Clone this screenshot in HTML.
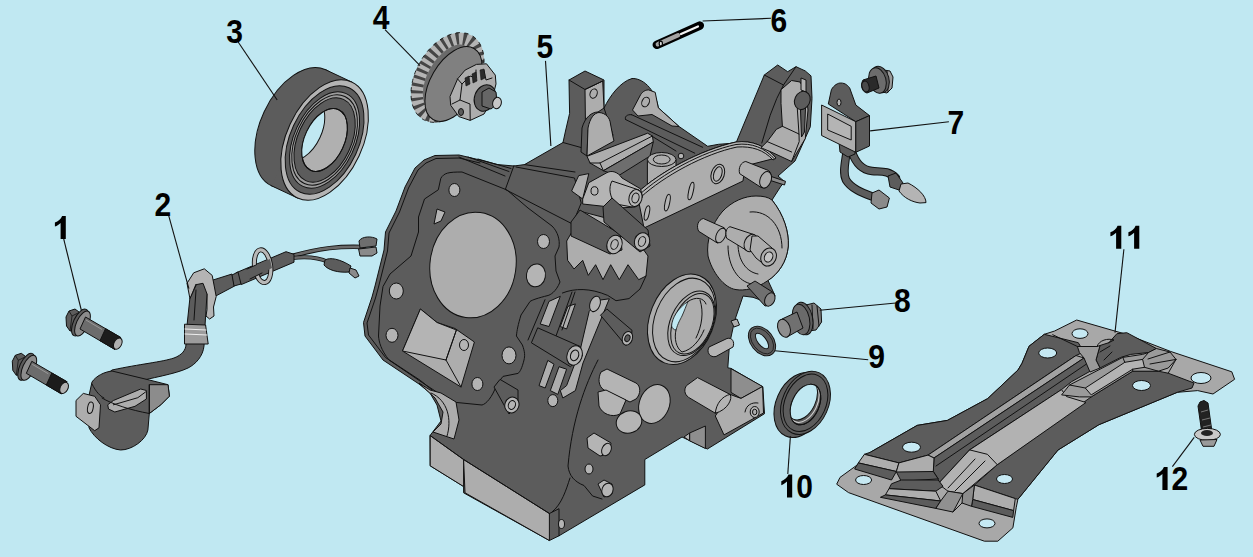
<!DOCTYPE html>
<html><head><meta charset="utf-8">
<style>
html,body{margin:0;padding:0;background:#c0e8f2;}
body{width:1253px;height:557px;overflow:hidden;}
svg{display:block;}
text{font-family:"Liberation Sans",sans-serif;font-weight:bold;font-size:33px;fill:#000;}
.d{fill:#5c5c5c;stroke:#111;stroke-width:1;stroke-linejoin:round;}
.m{fill:#adadad;stroke:#111;stroke-width:1;stroke-linejoin:round;}
.l{fill:#b4b4b4;stroke:#111;stroke-width:1;stroke-linejoin:round;}
.n{fill:none;stroke:#111;stroke-width:1;stroke-linejoin:round;stroke-linecap:round;}
.w{fill:none;stroke:#ddd;stroke-width:1;}
.ld{stroke:#111;stroke-width:1.1;fill:none;}
</style></head><body>
<svg width="1253" height="557" viewBox="0 0 1253 557">
<rect width="1253" height="557" fill="#c0e8f2"/>
<g id="block">
<!-- silhouette -->
<path class="d" d="M415 168L424 160L435 155.5L459 155L480 160L497.600 164.600L514 166L524.500 164.600L563 142.500L565.500 131L569.600 113.400L569 80L585 71L604 80L604 108C610 96 620 82 632 78.500C642 78 655 88 658.300 107.800L679 126.500L707.700 146.300L718.500 144.300L736 143L764.300 75L777.700 65L787.700 71.700L796 66.700L805.200 70.900L811 75.900L812 98.400L810.300 126.800L804.400 140.200L795 161L778 176L785 182L781 186L772 200C784 215 789 232 788.300 246C787 262 778 274 768 280.500L775 295.600L771.500 304L753 297.300L743 296L734.600 320.800L729.500 344L727.800 367.800L731 368.400L762.800 386.900L764.500 413.700L707.400 449L682 437L644.800 459.500L644.800 484.900L559 535.800L549.400 540.500L463.600 492.800L463.600 486.500L430.200 465.800L430 435.600L441 421L437 405L430 393L419 384L383 360L365 336L363.500 322.500L372 297L375 286L384 250L385.500 232L396 211L405 187Z"/>
<!-- flange gasket contour -->
<path class="n" d="M441 178C444 173 448 172 462 172L507 190L528 208L552 226C558 232 560 240 559 247L555 256L556 271L560 282C556 292 550 295 548 295.500C538 298 532 300 530 301.500L521 315C518 325 517 330 516.400 336L522.400 345C525 352 525 356 524 360C522 368 520 372 518 373.400L503 376.400L497 384C492 398 486 404 482 405L452 402L422 382.400L389 360C381 350 379 342 378.500 336L380 306L383 286.500L390 274L411 256L418.500 232L418.500 217L424.500 199L438 190Z"/>
<!-- fins and 5-block lines -->
<path class="n" d="M459 157L505 176M468 157L509 171.500M478 159L511 168.500M514 165.500L505.300 189.500L572.500 224L581.200 203L574.500 178L516 167M524.5 164.6L575 172M563 142.5L590 150"/>
<path class="n" d="M480 163L459 158L436 158.500L426 163L418 170L408.500 188L399.500 212L389 233L387.500 251L378.500 287L375.500 298L367 323L368.500 335L385.500 357.500L420.500 380.500L432 390"/>
<!-- bore -->
<ellipse class="m" cx="473" cy="265" rx="43" ry="53" transform="rotate(8 473 265)"/>
<!-- flange holes -->
<ellipse class="l" cx="454.400" cy="190" rx="5.5" ry="6.5"/>
<path class="l" d="M437 209L445 212L441 221L434 224Z"/>
<ellipse class="l" cx="543.5" cy="241.5" rx="6" ry="7"/>
<ellipse class="l" cx="536" cy="275.400" rx="9.5" ry="11.5" transform="rotate(10 536 275)"/>
<ellipse class="l" cx="396.300" cy="291" rx="7" ry="8"/>
<ellipse class="l" cx="392" cy="335.300" rx="6" ry="7"/>
<ellipse class="l" cx="509" cy="355.400" rx="7" ry="8.5"/>
<ellipse class="l" cx="477.400" cy="384" rx="5.5" ry="6.5"/>
<!-- port -->
<path class="m" d="M420.400 309L402.500 351L461 387L474.400 342L455 328.500L437 322.500Z"/>
<path class="l" d="M420.400 309L402.500 351L446 360L456.400 330L437 322.500Z"/>
<path class="n" d="M446 360L461 387M446 360L456.400 330"/>
<ellipse class="l" cx="464" cy="345" rx="4.5" ry="5.5"/>

<!-- top lugs -->
<path class="m" d="M585 89.500L602.700 81L604 108L598 112L588 120L585.500 128Z"/>
<path class="n" d="M569 80L585 89.500L602.700 81"/>
<ellipse class="m" cx="593.600" cy="93.600" rx="3.500" ry="4.800" transform="rotate(20 593.6 93.6)"/>
<path class="m" d="M632.500 110L640.600 94.700C643 91 646 89.900 648.700 89.900L655.200 92.300L658.300 107.800L679 126.500L672 126L652 114.500L638 116Z"/>
<ellipse class="m" cx="645.600" cy="102" rx="3.600" ry="5" transform="rotate(25 645.6 102)"/>
<!-- top slope + bars -->
<path class="n" d="M604 108L613 135M631.600 114.700L702.700 147.300M625.700 119.600L694.800 153.200M631.600 114.700C627 114 624 117 625.700 119.600M652.300 136.400L676 151"/>
<!-- arch -->
<path class="d" d="M581 152L582 128C585 117 592 112 598 112L598 118L588 130L587 156Z"/>
<path class="m" d="M587 156L588 128C590 118 594 113 599 112.500C606 113 610 118 610.500 124L613 137L614 141Z"/>
<!-- light bar -->
<path class="m" d="M587 156.300L647.600 133.200L652.400 136L653.300 141.900L603.400 170.700L590 163Z"/>
<path class="n" d="M652.4 136L600 163L590 163M600 163L603.4 170.7"/>
<path class="m" d="M603.400 170.700L653.300 141.900L650 156L618 176Z" style="fill:#6e6e6e"/>
<!-- boss cylinder -->
<path class="m" d="M647.400 159.500L647.400 186L676 172L676 159.500Z"/>
<ellipse class="m" cx="661.700" cy="159.500" rx="14.300" ry="7"/>
<ellipse class="m" cx="661.700" cy="159.500" rx="8.400" ry="4.500"/>
<circle class="l" cx="681" cy="156" r="2.800"/>
<!-- sector plate -->
<path class="m" d="M637 193C660 172 700 150 736 142C752 140 766 146 776 158L745 166L743 181L644 228Z"/>
<path class="l" d="M637 193C660 172 700 150 736 142C752 140 766 146 776 158L773 160C764 150 752 146 737 147C704 154 664 176 641 197Z"/>
<path class="n" d="M639 195C662 174 701 152 736 144.500C752 142.500 765 148 774.500 159"/>
<g class="l">
<ellipse cx="647" cy="213" rx="2.3" ry="7.5" transform="rotate(12 647 213)"/>
<ellipse cx="667.4" cy="202.7" rx="2.3" ry="8.5" transform="rotate(12 667.4 202.7)"/>
<ellipse cx="691" cy="191" rx="2.3" ry="9" transform="rotate(12 691 191)"/>
<ellipse cx="717.8" cy="174" rx="6.5" ry="10" transform="rotate(18 717.8 174)"/>
<ellipse cx="717.8" cy="174" rx="4" ry="7.5" transform="rotate(18 717.8 174)"/>
</g>
<!-- lever -->
<path class="m" d="M571.6 191L578.7 175.6L588.8 173.6L582.7 199Z"/>
<path class="l" d="M582.7 199L588.800 182.700L607 172.600C612 170 618 172 622 178L640.500 188.800L642.600 197L635.500 207L619 208L582.700 204Z"/>
<ellipse class="l" cx="594.5" cy="190.9" rx="3.5" ry="4.2"/>
<path class="l" d="M612 181C608 188 610 198 616 204L632 207L639 190Z"/>
<ellipse class="l" cx="635.5" cy="198" rx="6.5" ry="8.5" transform="rotate(15 635.5 198)"/>
<ellipse class="l" cx="635.5" cy="198" rx="3.5" ry="5" transform="rotate(15 635.5 198)"/>
<!-- plate end pin -->
<path class="m" d="M771.800 176.700L785.500 181.300L784.500 185L770.500 180.500Z" style="fill:#8a8a8a"/>
<path class="m" d="M745.800 161.500L768.700 170.600C773 174 772 184 765 188L761 187.400L739.700 173.700C738 168 741 162 745.800 161.500Z"/>
<ellipse class="m" cx="765.600" cy="179.800" rx="5.500" ry="8.500" transform="rotate(20 765.6 179.8)"/>
<!-- arm -->
<path class="n" d="M764.300 75L783.500 85L776.800 98.400L770.200 115.200L761.800 143M783.500 85L796 66.700"/>
<path class="m" d="M781 89.700L791.600 80.500L800 82L806 92L808 110L805.300 138.500L791.600 161.500L771.800 152.300L761 147.700L767.200 141.600L776.300 129.400L782.400 126.300L781 103.400Z"/>
<path class="n" d="M782.400 126.300L799 134L799.200 141.600L791.600 161.500M799 134L797 104M767.2 141.6L791.600 152"/>
<path class="l" d="M801 78L806 80L806 92L801 90Z"/>
<path class="d" d="M800.500 110L805.500 108L804.500 132L801.500 137Z"/>
<ellipse class="d" cx="802.300" cy="100.400" rx="7.600" ry="9.300" transform="rotate(25 802.3 100.4)"/>
<!-- big boss -->
<path class="m" d="M772 200C784 215 789 232 788.300 246C787 262 778 274 768 280.500C756 289 744 291 736 289.600C724 288 712 272 708 256C706 240 712 224 722 212C732 201 745 196 756 196C763 196 768 197 772 200Z"/>
<path class="n" d="M728 246C728 266 738 282 752 284M738 244C738 260 746 272 758 274M750 212C768 210 782 226 782 248"/>
<path class="m" d="M703.300 218.500L724.300 227.800C727 232 724 240 717.300 243L698.700 231.300C696 226 698 220 703.300 218.500Z"/>
<ellipse class="m" cx="720.800" cy="235.500" rx="4.500" ry="7.800" transform="rotate(25 720.8 235.5)"/>
<path class="m" d="M730 226.700L754.600 234.800C760 238 756 250 747.600 251L726.700 238.300C725 233 726 228 730 226.700Z"/>
<ellipse class="m" cx="751" cy="243" rx="6.500" ry="9" transform="rotate(25 751 243)"/>
<path class="m" d="M752 236L758 236L772 248L774 262L766 266L756 258L750 250Z"/>
<ellipse class="m" cx="768.600" cy="257" rx="7.500" ry="9.300" transform="rotate(25 768.6 257)"/>
<ellipse class="l" cx="768.600" cy="257" rx="4" ry="5.300" transform="rotate(25 768.6 257)" style="fill:#c4c4c4"/>
<!-- stud -->
<path class="m" d="M747 286L755 281L774 293L771 305L765 306Z" style="fill:#707070"/>
<ellipse class="m" cx="769.800" cy="299.500" rx="4.800" ry="7" transform="rotate(25 769.8 299.5)" style="fill:#8a8a8a"/>
<!-- seal ring boss -->
<ellipse class="m" cx="682" cy="319.300" rx="32" ry="47" transform="rotate(22 682 319.3)"/>
<ellipse class="n" cx="684" cy="320" rx="29" ry="43.500" transform="rotate(22 684 320)"/>
<ellipse class="m" cx="691.400" cy="323.300" rx="21" ry="34" transform="rotate(24 691.4 323.3)"/>
<ellipse class="n" cx="692.400" cy="323.800" rx="19" ry="32" transform="rotate(24 692.4 323.8)"/>
<path d="M671.600 326C672 318 678 308 688 301.500C686 306 684.500 310.500 682 316C680 320 678 323 676 330C674 330 672 328 671.600 326Z" fill="#c0e8f2" stroke="#111" stroke-width=".8"/>
<path class="n" d="M688 301.500C696 296 704 298 706 304M676 330C674 338 676 348 682 352C692 350 700 340 704 330M700 300C704 312 702 326 696 338"/>
<!-- pill + small stud -->
<path class="l" d="M709 347L727 338.500C732 337 735 342 733 347L716 356.500C710 358 706 352 709 347Z"/>
<path class="m" d="M731 321L737 319L739.500 325L734 327Z"/>
<!-- lower right foot -->
<path class="m" d="M731 368.700L762.600 386.500L741 398.400L731 392.400Z" style="fill:#8e8e8e"/>
<path class="m" d="M715.300 416L730 394.400L741 398.400L762.600 386.500L763.500 413L724 434.900Z"/>
<path class="m" d="M689.600 433L705.400 426L705.400 448.500L689.600 440.800Z" style="fill:#8e8e8e"/>
<path class="l" d="M684 437L689.600 433L689.600 440.800Z"/>
<path class="n" d="M745 412C746 405 752 402 758 403"/>
<ellipse class="l" cx="754.700" cy="412" rx="4.500" ry="5.500"/>
<ellipse class="m" cx="754.700" cy="412" rx="2.200" ry="2.800"/>
<path class="l" d="M686.600 385.500L697.500 377.600L730 394.400C733 398 728 410 715.300 413.200L688.600 397.400C684 394 684 389 686.600 385.500Z"/>
<path class="n" d="M730 394.400C722 396 716 404 715.300 413.200"/>
<!-- plugs -->
<path class="l" d="M601 372L607 369L636 383C641 386 641 394 636 399L630 402L604 390C598 386 598 378 601 372Z"/>
<ellipse class="l" cx="654.400" cy="404" rx="15" ry="20" transform="rotate(22 654.4 404)"/>
<ellipse class="l" cx="629" cy="422" rx="13" ry="11" transform="rotate(-20 629 422)"/>
<path class="l" d="M598 392L606 390L626 400L620 414C612 418 602 414 599 406Z"/>
<!-- studs lower -->
<path class="l" d="M587 438L594 433L611 443L609 454L600 456L588 448Z"/>
<ellipse class="l" cx="606.500" cy="449.500" rx="4.500" ry="6.500" transform="rotate(25 606.5 449.5)"/>
<ellipse class="l" cx="589" cy="469" rx="4" ry="5"/>
<path class="l" d="M598 484L604 480L612 484L612 494L604 497Z"/>
<ellipse class="l" cx="607.500" cy="490" rx="5.500" ry="7" transform="rotate(20 607.5 490)"/>
<path class="n" d="M598 360C585 385 572 420 568 466C569 476 575 482 584 485.500L592.600 496L602 499M570 478C566 490 562 504 552 512"/>
<!-- bottom faces -->
<path class="m" d="M430.200 435.600L430.200 465.800L463.600 486.500L463.600 459.500Z"/>
<path class="m" d="M463.600 459.500L465 492.800L549.400 540.500L549.400 513.500Z"/>
<path class="n" d="M549.400 513.500L559 508.700L559 535.800M549.4 513.5L463.600 459.500L430.200 435.600"/>
<ellipse class="l" cx="561.500" cy="524" rx="3" ry="4.500"/>
<!-- crescent -->
<path class="m" d="M419 383L430 390L441 393L456 402L459 420L454 439L433 432L441 424L443 412L435 398Z"/>
<path class="n" d="M431 393C448 400 452 420 447 436"/>

<!-- middle mechanism -->
<path class="m" d="M566.7 241L573 230L583 212L606 218L612 232L640.900 246L648 256L646 276L638.700 279.700L628 264.700L619.300 279.700L610.700 264.700L603 279.700L595.600 264.700L588.300 275.400L582.700 260.300L574 269L567.600 260.300Z"/>
<!-- rods top -->
<path class="d" d="M571 222L580 210L620 234L622 250L610 254L571 236Z"/>
<ellipse class="l" cx="614.500" cy="244.500" rx="7.500" ry="9.500" transform="rotate(20 614.5 244.5)"/>
<ellipse class="l" cx="614.500" cy="244.500" rx="3.500" ry="5" transform="rotate(20 614.5 244.5)"/>
<path class="d" d="M603 207L612 198L648 230L650 246L640 252L604 222Z"/>
<ellipse class="l" cx="642" cy="241.500" rx="7.500" ry="9" transform="rotate(20 642 241.5)"/>
<ellipse class="l" cx="642" cy="241.500" rx="3.500" ry="5" transform="rotate(20 642 241.5)"/>
<!-- light strips -->
<path class="m" d="M549 301.400L560.300 296.300L549 326.500L540.200 324Z"/>
<path class="m" d="M567.900 306.400L575.400 303.900L566.600 329L560.300 326.500Z"/>
<path class="m" d="M589.200 311.400L600.500 300L609.300 298.800L583 363L575.400 390.600L562.800 398L560.300 390.600L566.600 385.600L580.400 349Z"/>
<path class="m" d="M547.800 360.400L554 364.200L545.200 388L539 385.600Z"/>
<path class="m" d="M559 366.700L566.600 369.200L557.800 394.400L550.300 390.600Z"/>
<path class="n" d="M562.400 293C575 288 590 288 607.700 295.400L616 300.700L629 298.600L640 289L646 276M545 299.700L528 340M575 292L562 330M572 292L556 336"/>
<ellipse class="l" cx="595" cy="303.900" rx="5" ry="8" transform="rotate(20 595 303.9)"/>
<ellipse class="l" cx="552.800" cy="400.600" rx="5" ry="6"/>
<!-- rod 3 -->
<path class="d" d="M537.700 327.800L580.400 346.600L582.500 356L570.400 366.700L531.400 342.800Z"/>
<ellipse class="l" cx="574.600" cy="355.400" rx="7.500" ry="10" transform="rotate(20 574.6 355.4)"/>
<ellipse class="l" cx="574.600" cy="355.400" rx="4" ry="5.500" transform="rotate(20 574.6 355.4)"/>
<!-- rod 4 -->
<path class="d" d="M600.500 315.200L606.800 308.900L632 330.300L631 342L625.700 345.300Z"/>
<ellipse class="l" cx="627.400" cy="338.300" rx="5" ry="7" transform="rotate(20 627.4 338.3)"/>
<ellipse class="d" cx="627.400" cy="338.300" rx="2.500" ry="3.500" transform="rotate(20 627.4 338.3)"/>
<!-- lower-left lever end -->
<path class="d" d="M494 387L500 379.400L518 390L518 404L509 414Z"/>
<ellipse class="l" cx="511.900" cy="405" rx="7" ry="8" transform="rotate(20 511.9 405)"/>
<ellipse class="l" cx="511.900" cy="405" rx="3.500" ry="4.500" transform="rotate(20 511.9 405)"/>
</g>
<g id="bearing">
<!-- outer body -->
<g transform="translate(298.6 127.8) rotate(25)"><ellipse class="d" rx="38" ry="64"/></g>
<path class="d" d="M271.5 185.8L297.5 198L351.7 82L325.7 69.8Z" style="stroke:none"/>
<path class="n" d="M271.5 185.8L297.5 198M351.7 82L325.7 69.8"/>
<g transform="translate(324.6 140) rotate(25)">
<clipPath id="bore"><ellipse rx="19.800" ry="33.300"/></clipPath>
<ellipse class="l" rx="38" ry="64"/>
<ellipse class="d" rx="34.200" ry="57.600"/>
<ellipse class="m" rx="30.400" ry="51.200" style="fill:#9c9c9c"/>
<ellipse class="n" rx="28.500" ry="48"/>
<ellipse class="d" rx="26.600" ry="44.800"/>
<ellipse class="l" rx="19.800" ry="33.300" style="fill:#b0b0b0"/>
<g clip-path="url(#bore)"><ellipse cx="-25" cy="0" rx="19.800" ry="33.300" fill="#c0e8f2" stroke="#111"/></g>
<ellipse class="n" rx="19.800" ry="33.300"/>
</g>
</g>
<g id="gear">
<g transform="translate(447.500 77.500) rotate(30)">
<ellipse rx="30" ry="47" fill="#6a6a6a"/>
<ellipse rx="25.500" ry="42.500" fill="none" stroke="#b4b4b4" stroke-width="12"/>
<ellipse rx="25.500" ry="42.500" fill="none" stroke="#454545" stroke-width="12" stroke-dasharray="3 4.100"/>
<ellipse rx="31.500" ry="48.500" fill="none" stroke="#111" stroke-width="0.800" stroke-dasharray="4.100 4.600"/>
</g>
<g transform="translate(453.500 84) rotate(30)">
<ellipse rx="23" ry="41" fill="#808080" stroke="#111" stroke-width="1"/>
</g>
<!-- hub -->
<path class="m" d="M450 96.500L457.600 78.900L465.100 70.100L476.400 64.400L486.500 63.800L495.300 75.100L496 83.900L492 100L484 114L470.200 120.400L458.800 116.600L450.700 105.300Z"/>
<path class="n" d="M457.600 78.900L462 84L460 100L452 104M462 84L470 76L476 78L476 70M460 100L470 104L470.200 120M484 70L486 80L492 78"/>
<path d="M465 78L469 76L470 84L466 86ZM472 74L476 72L477 81L473 83ZM480 70L484 69L485 78L481 80Z" fill="#2a2a2a" stroke="#111" stroke-width=".6"/>
<ellipse cx="485" cy="98" rx="10.500" ry="13.500" transform="rotate(20 485 98)" class="d"/>
<path class="d" d="M482 92L489 88L496 92L497 104L491 109L482 106Z" style="fill:#666"/>
<ellipse cx="497" cy="103" rx="4.300" ry="5.800" transform="rotate(15 497 103)" class="l" style="fill:#c8c8c8"/>
<ellipse cx="461" cy="112" rx="2.500" ry="3.500" class="d"/>
</g>
<g id="bolts">
<g>
<!-- hex head -->
<path d="M66 317L69 311L75 309L79 312L76 330L70 331L66.500 326Z" fill="#5c5c5c" stroke="#111"/>
<path d="M69 311L72 316L70 331M72 316L78 313" fill="none" stroke="#111" stroke-width=".8"/>
<!-- flange -->
<ellipse cx="80" cy="322.500" rx="6.500" ry="14.500" transform="rotate(25 80 322.5)" fill="#5c5c5c" stroke="#111"/>
<ellipse cx="82.500" cy="323.500" rx="6" ry="13.500" transform="rotate(25 82.5 323.5)" fill="#8c8c8c" stroke="#111"/>
<!-- shaft -->
<path d="M85.500 317L120.600 337.400L115 349.500L80 329Z" fill="#6c6c6c" stroke="#111"/>
<path d="M105.500 328.700L120.600 337.400L115 349.500L100 340.700Z" fill="#1c1c1c" stroke="#111"/>
<ellipse cx="117.800" cy="343.600" rx="3.800" ry="6" transform="rotate(28 117.8 343.6)" fill="#b0b0b0" stroke="#111"/>
<path d="M86 320L102 329.500" stroke="#999" stroke-width="1" fill="none"/>
</g>
<g transform="translate(-53.700 44.300)">
<!-- hex head -->
<path d="M66 317L69 311L75 309L79 312L76 330L70 331L66.500 326Z" fill="#5c5c5c" stroke="#111"/>
<path d="M69 311L72 316L70 331M72 316L78 313" fill="none" stroke="#111" stroke-width=".8"/>
<!-- flange -->
<ellipse cx="80" cy="322.500" rx="6.500" ry="14.500" transform="rotate(25 80 322.5)" fill="#5c5c5c" stroke="#111"/>
<ellipse cx="82.500" cy="323.500" rx="6" ry="13.500" transform="rotate(25 82.5 323.5)" fill="#8c8c8c" stroke="#111"/>
<!-- shaft -->
<path d="M85.500 317L120.600 337.400L115 349.500L80 329Z" fill="#6c6c6c" stroke="#111"/>
<path d="M105.500 328.700L120.600 337.400L115 349.500L100 340.700Z" fill="#1c1c1c" stroke="#111"/>
<ellipse cx="117.800" cy="343.600" rx="3.800" ry="6" transform="rotate(28 117.8 343.6)" fill="#b0b0b0" stroke="#111"/>
<path d="M86 320L102 329.500" stroke="#999" stroke-width="1" fill="none"/>
</g>
</g>
<g id="sensor">
<!-- wires -->
<path d="M292 256C320 248 340 246 364 247" fill="none" stroke="#111" stroke-width="4.500" stroke-linecap="round"/>
<path d="M292 256C320 248 340 246 364 247" fill="none" stroke="#6a6a6a" stroke-width="2.800" stroke-linecap="round"/>
<path d="M292 258C310 256 320 258 328 262" fill="none" stroke="#111" stroke-width="4" stroke-linecap="round"/>
<path d="M292 258C310 256 320 258 328 262" fill="none" stroke="#6a6a6a" stroke-width="2.400" stroke-linecap="round"/>
<path class="d" d="M325 260C330 257 340 259 351 266L349 272C338 273 328 270 324 265Z"/>
<path class="m" d="M350 268L356 270L359 276L355 278L349 273Z" style="fill:#8a8a8a"/>
<path class="d" d="M359 241C362 236 372 236 377 239L376 246L360 248Z" style="fill:#6e6e6e"/>
<path class="m" d="M358.600 249L376 247L377 253L372 256L360 256Z" style="fill:#8a8a8a"/>
<!-- sheaths -->
<path class="d" d="M236 272.800L286 251.700L294 254.300L294 262.200L241.200 284.600Z"/>
<path class="d" d="M210.900 280.700L232 274L234.600 286L214.800 296.500Z"/>
<path class="d" d="M232 275L238 272L241 284L234 286Z"/>
<!-- washer ring -->
<g transform="translate(262.600 266.200) rotate(-8)">
<ellipse rx="8" ry="16.500" fill="none" stroke="#111" stroke-width="5"/>
<ellipse rx="8" ry="16.500" fill="none" stroke="#b8b8b8" stroke-width="3.200"/>
</g>
<path class="d" d="M247 269L270 259L272 268L250 279Z" style="stroke:none"/>
<path class="n" d="M247 269L256 265M250 279L262 273"/>
<!-- clamp -->
<path class="l" d="M187 283.300L193.700 272.800L204.300 268.800L212.200 275.400L216.200 296.500L213.500 307L214 316L209.600 319L206 316L207 309.700L207 293.900L196 284L190 299Z"/>
<!-- tube -->
<path class="d" d="M189.800 299L196.400 284.600L203 283.300L207 293.900L205 326L204 346C203 356 196 364 188 368C176 374 150 378 132 383L112 392L100 380L112 370C140 364 162 362 174 358C182 355 186 350 186 344L187 325.500Z"/>
<path class="n" d="M196 290L194 320"/>
<!-- clip band -->
<path class="l" d="M184.500 324.200L205.600 325L208.200 344L184.500 344Z" style="fill:#9c9c9c"/>
<path class="n" d="M185 329L206 330M185 334L207 335" style="stroke:#eee"/>
<!-- body -->
<path class="d" d="M92 382C96 376 104 372 112 371L149.300 380L168 384.700L169.400 396.200L160.800 404.800L149.300 413.500L147.900 430C146 440 132 450 120.600 450C108 449 94 438 89 427.800L88 400Z"/>
<path class="m" d="M149.300 384.700L168 384.700L169.400 396.200L160.800 404.800L149.300 413.500Z" style="fill:#8c8c8c"/>
<path class="m" d="M107.700 404.800L113.400 400.500L140.700 389L146.400 390.500L146.400 399L135 406.300L114.800 412L108.500 409Z"/>
<path class="n" d="M113.400 404.800L137.800 397.700L145.500 392"/>
<path class="n" d="M102 398C112 404 130 410 149.300 413.500M92 384C96 392 100 396 104 398M149.3 384.7L149.3 413.5"/>
<!-- tab -->
<path class="m" d="M76 400.500L83.300 393.400L94.700 396.300L100.500 404.800L99 427.800L94.700 430.700L76 416.300Z"/>
<ellipse class="l" cx="90.400" cy="407.700" rx="2.800" ry="5.800" transform="rotate(10 90.4 407.7)"/>
</g>
<g id="pin">
<path d="M656.800 44.800L699.800 25.600" stroke="#000" stroke-width="8.500" stroke-linecap="round" fill="none"/>
<path d="M657.800 44.300L678 35.300" stroke="#a4a4a4" stroke-width="4.400" stroke-linecap="round" fill="none"/>
<path d="M681 34L698 26.400" stroke="#f4f4f4" stroke-width="2.200" stroke-linecap="round" fill="none"/>
<ellipse cx="660.800" cy="43.600" rx="1.600" ry="2.500" fill="#ddd" stroke="#000" stroke-width="1.200"/>
</g>
<g id="coil">
<!-- wires -->
<path d="M847 148C846 160 842 172 846 180C852 190 866 194 876 198" fill="none" stroke="#111" stroke-width="8.500" stroke-linecap="round"/>
<path d="M847 148C846 160 842 172 846 180C852 190 866 194 876 198" fill="none" stroke="#5c5c5c" stroke-width="6.500" stroke-linecap="round"/>
<path d="M852 152C856 164 862 170 872 171C880 172 888 170 896 178" fill="none" stroke="#111" stroke-width="8.500" stroke-linecap="round"/>
<path d="M852 152C856 164 862 170 872 171C880 172 888 170 896 178" fill="none" stroke="#5c5c5c" stroke-width="6.500" stroke-linecap="round"/>
<path class="m" d="M872 193L879 190L889.400 198L887 207L879 209L871 203Z" style="fill:#8a8a8a"/>
<path class="d" d="M888 176L896 173L903 183L899 190L890 187Z"/>
<path class="l" d="M901 184L908 183C918 188 926 196 926 202.600L920 203C912 202 904 198 899 191Z"/>
<path class="d" d="M839 142L855 144L855 154L848 157L840 152Z"/>
<!-- tab -->
<path class="d" d="M828.300 104L831.400 89.700C834 85 838 83 840.500 83C846 83 848 86 849.700 88L855.800 105L869.500 115.600L855.800 121.700Z"/>
<ellipse class="l" cx="839" cy="102.500" rx="2" ry="3.500"/>
<!-- box -->
<path class="m" d="M821.600 105L855.800 121.700L855.800 152.300L821.600 135.500Z"/>
<path class="l" d="M827.700 114L851.200 126.300L851.200 140L827.700 130Z"/>
<path class="d" d="M855.800 121.700L869.500 115.600L869.500 146L855.800 152.300Z"/>
<!-- bolt -->
<path class="m" d="M884 70L890 71L893 77L892 88L887 93L882 92Z" style="fill:#9a9a9a"/>
<path class="n" d="M887 71L888 92"/>
<ellipse cx="880" cy="79.500" rx="9" ry="13.500" transform="rotate(-15 880 79.5)" fill="#5c5c5c" stroke="#111"/>
<ellipse cx="877.500" cy="80.500" rx="8.500" ry="13" transform="rotate(-15 877.5 80.5)" fill="#6c6c6c" stroke="#111"/>
<path d="M863 80L876 76L879 88L867 93C862 92 860 85 863 80Z" fill="#2a2a2a" stroke="#111"/>
<ellipse cx="865.500" cy="86.500" rx="3.500" ry="5.500" transform="rotate(-15 865.5 86.5)" fill="#4a4a4a" stroke="#111"/>
</g>
<g id="plug8">
<!-- hex head -->
<path class="m" d="M806 305L814 303L821 309L821.600 322L816 330L808 331Z" style="fill:#7c7c7c"/>
<path class="n" d="M812 305L813 329M817 306L819 326"/>
<!-- flange -->
<ellipse cx="803.600" cy="318.500" rx="9" ry="16.500" transform="rotate(-12 803.6 318.5)" class="d"/>
<ellipse cx="801" cy="319.500" rx="8.500" ry="15.500" transform="rotate(-12 801 319.5)" class="d" style="fill:#6a6a6a"/>
<!-- shaft -->
<path class="m" d="M782 319L797 312L803 328L787 337Z" style="fill:#707070"/>
<ellipse cx="784" cy="328.200" rx="6" ry="9.300" transform="rotate(-20 784 328.2)" class="l" style="fill:#8e8e8e"/>
</g>
<g id="washer9" transform="translate(762 341) rotate(-38)">
<ellipse rx="7.800" ry="13" fill="none" stroke="#111" stroke-width="8"/>
<ellipse rx="7.800" ry="13" fill="none" stroke="#5c5c5c" stroke-width="6.200"/>
<ellipse rx="9.300" ry="14.600" fill="none" stroke="#111" stroke-width=".7"/>
</g>
<g id="seal10">
<g transform="translate(799.500 405) rotate(24)"><ellipse rx="23.500" ry="34" class="d"/></g>
<g transform="translate(805.500 402.800) rotate(24)">
<ellipse rx="23" ry="33" class="d"/>
<ellipse rx="20.500" ry="30" class="n"/>
</g>
<g transform="translate(805.500 404.500) rotate(25)">
<clipPath id="s10"><ellipse rx="13.500" ry="21.500"/></clipPath>
<ellipse rx="13.500" ry="21.500" fill="#5c5c5c" stroke="#111"/>
<g clip-path="url(#s10)">
<ellipse cx="-5" cy="-3" rx="13.500" ry="21.500" fill="#c0e8f2" stroke="#111"/>
<ellipse cx="-2.500" cy="-1.500" rx="13.500" ry="21.500" fill="none" stroke="#cfcfcf" stroke-width="1"/>
</g>
<ellipse rx="13.500" ry="21.500" fill="none" stroke="#111"/>
</g>
</g>
<g id="plate11">
<defs>
<linearGradient id="pg" gradientUnits="userSpaceOnUse" x1="995" y1="480" x2="1055" y2="440">
<stop offset="0" stop-color="#a4a4a4"/><stop offset="1" stop-color="#5e5e5e"/>
</linearGradient>
</defs>
<!-- silhouette / flange -->
<path class="m" d="M836.700 484.200L840 477.400L858.500 464L870.300 452.300L917.200 425.400L947.400 420.400L987.700 398.600L1018 370L1022 363.300L1029 346.300L1044.300 334.300L1054.600 331L1076.700 320L1126.200 334.300L1170.500 351.400L1231.800 371.800L1234.600 379.300L1213 394L1197.700 390.600L1177.300 392.300L1098.900 424.700L1058 450L1017.900 499.300L1016.200 507.700L1012.900 527.800L997.800 541.200L984.400 541.200L848.500 492.600Z" style="fill:#a8a8a8"/>
<!-- lower right region -->
<path class="d" d="M974.400 485L997.300 464.700L1091.200 396.900L1132.700 371.200L1158.400 371.200L1168.200 373.200L1194 383L1192 388L1177.300 392.300L1098.900 424.700L1058 450L1017.900 499.300L1015.300 498.600Z"/>
<path class="m" d="M974.400 485L1015.300 498.600L1013.600 510.600L972.700 499.500Z"/>
<path class="d" d="M972.700 499.500L1013.600 510.600L1012.800 517.400L971.500 506.300Z"/>
<path class="m" d="M962.800 493.600L974.400 485L972.700 499.500L971.500 506.300L962 503Z" style="fill:#8c8c8c"/>
<!-- top dark band -->
<path class="d" d="M864.400 454.300L870.300 452.300L917.200 425.400L947.400 420.400L987.700 398.600L1018 370L1022 363.300L1029 346.300L1044.300 334.300L1078.300 342.700L1083.700 352L1076 355.500L928 455.100L898.900 462.900Z"/>
<!-- light strip 1 -->
<path class="m" d="M928 455.100L1076 355.500L1084 358L934 458Z" style="fill:#a2a2a2"/>
<!-- dark strip 2 -->
<path class="d" d="M934 458L1084 358L1093 369.600L1071.500 381.700L1061.500 389.600L969.600 449.900L938.200 483.800L938.200 478.900L933.300 471.500Z"/>
<path class="n" d="M936 466L1088 363"/>
<!-- light channel -->
<path class="l" d="M938.200 483.800L969.600 449.900L1061.500 389.600L1066.400 396.500L1086 402.500L997.300 464.700L962.800 493.600L948 491.200Z" style="fill:#b2b2b2"/>
<path class="n" d="M969.6 449.9L987.400 454.300L997.3 464.7M948 488L975 459M955 491L985 461"/>
<!-- dark above rib -->
<path class="d" d="M1100 345.500L1109 342.600L1116.900 333.700L1126.800 332.700L1156.400 348.500L1148.500 352.500L1130.700 354.400L1120.800 357.400L1100 368L1096 360Z"/>
<!-- rib -->
<path class="m" d="M1061.600 394.900L1069.500 385L1122.800 357.400L1142.600 354.400L1148.500 352.500L1156.400 348.500L1170 352L1176 359.400L1168.200 368L1158.400 371.200L1132.700 371.200L1091.200 396.900L1079.400 396.900Z" style="fill:#9a9a9a"/>
<path class="l" d="M1085.300 388L1124.800 362.300L1142.600 359.400L1144.500 367.300L1132.700 369.200L1091.200 394.900Z" style="fill:#b4b4b4"/>
<path class="n" d="M1069.500 385L1085.300 388M1122.800 357.400L1124.800 362.300M1142.600 359.400L1148.500 352.500M1144.500 367.300L1158.400 371.200M1148 359L1170 352M1150 364L1176 359.400M1132.700 369.200L1132.700 371.200"/>
<!-- left raised pad slopes -->
<path class="m" d="M864.400 454.300L898.900 462.900L896.400 471.500L858.300 462.900Z"/>
<path class="d" d="M858.300 462.900L896.400 471.500L891.500 480L854.600 469Z"/>
<path class="m" d="M898.900 462.900L928 455.100L934 458L933.300 471.500L903.800 477.700L896.400 471.500Z"/>
<path class="d" d="M896.400 472L933.300 471.500L938.200 478.900L901.300 481.300Z"/>
<!-- front pad -->
<path class="d" d="M891.500 483.800L901.300 480L938.200 480L943 486.300L935.800 491.200L889 488.700Z"/>
<path class="m" d="M889 488.700L935.800 491.200L940.700 501L885.400 494.900Z"/>
<path class="d" d="M885.400 494.900L940.700 501L935.800 508.400L880.400 497.300Z"/>
<path class="m" d="M935.800 508.400L940.700 501L948 491.200L962.800 493.600L953 512Z" style="fill:#909090"/>
<path class="n" d="M953 512L962 503"/>
<!-- right end details -->
<path class="m" d="M1077.400 346.500L1097 346.500L1100 345.500L1096 360L1100 368L1090 372L1084 358L1079.400 352.500Z" style="fill:#9a9a9a"/>
<path class="n" d="M1052.700 334.700L1077.400 346.500M1097 346.500C1099 340 1108 338 1114 340L1109 342.600M1100 352L1110 346M1104 360L1112 352M1168.200 373.200L1176 359.400"/>
<!-- holes -->
<g fill="#c6e9f3" stroke="#111">
<ellipse cx="911.500" cy="447.200" rx="9" ry="5"/>
<ellipse cx="863.600" cy="480" rx="8" ry="4.500"/>
<ellipse cx="1004.500" cy="479" rx="8" ry="4.500"/>
<ellipse cx="987" cy="523.400" rx="8" ry="4.500"/>
<ellipse cx="1080" cy="333.600" rx="8" ry="4.800"/>
<ellipse cx="1047.700" cy="353" rx="9" ry="5"/>
<ellipse cx="1201" cy="378" rx="10" ry="5.500"/>
<ellipse cx="1141.500" cy="385.500" rx="9" ry="5"/>
</g>
</g>
<g id="screw12">
<path d="M1198 406L1200 402L1204 400.500L1208 403L1212 432L1202 434Z" fill="#222" stroke="#111"/>
<path d="M1201 412L1208 410M1202 420L1210 418M1203 427L1211 425" stroke="#777" stroke-width="1"/>
<ellipse cx="1207.400" cy="434.400" rx="13" ry="6" class="l" style="fill:#c8c8c8"/>
<ellipse cx="1207" cy="433" rx="6" ry="3" fill="#222"/>
<path class="m" d="M1200 440L1217 439.500L1214 446.300L1203 446.300Z" style="fill:#9a9a9a"/>
</g>
<!--LEADERS-->
<g class="ld">
<path d="M63.7 239L81.4 310.5"/>
<path d="M168.7 215.7L188.9 288.7"/>
<path d="M238 41.7L277.2 100"/>
<path d="M385 29.6L420 65.6"/>
<path d="M545.5 60.9L550.9 146"/>
<path d="M702.6 21L771 18.3"/>
<path d="M870.1 130.9L948.9 121.7"/>
<path d="M819.8 310.2L895.9 303"/>
<path d="M774.9 350.8L868.2 359.8"/>
<path d="M790.4 436.2L787.8 474"/>
<path d="M1123.9 249.2L1115 332.6"/>
<path d="M1194.2 437.4L1172.4 466.6"/>
</g>
<!--LABELS-->
<g>
<text transform="translate(154.6 215.6) scale(0.91 1)">2</text>
<text transform="translate(226.2 42.5) scale(0.91 1)">3</text>
<text transform="translate(372.7 29.0) scale(0.91 1)">4</text>
<text transform="translate(536.4 57.8) scale(0.91 1)">5</text>
<text transform="translate(770.4 31.9) scale(0.91 1)">6</text>
<text transform="translate(947.6 134.0) scale(0.91 1)">7</text>
<text transform="translate(894.1 312.3) scale(0.91 1)">8</text>
<text transform="translate(868.3 368.2) scale(0.91 1)">9</text>
<text transform="translate(796.2 497.7) scale(0.91 1)">0</text>
<text transform="translate(1171.5 489.7) scale(0.91 1)">2</text>
<path transform="translate(54.9 215.9)" d="M10.9 0L10.9 23L5.7 23L5.7 7C4.2 8.5 2.3 9.800 0 10.600L0 6.600C3.200 5.400 6 3 7.200 0Z" fill="#000"/>
<path transform="translate(781.3 474.6)" d="M10.9 0L10.9 23L5.7 23L5.7 7C4.2 8.5 2.3 9.800 0 10.600L0 6.600C3.200 5.400 6 3 7.200 0Z" fill="#000"/>
<path transform="translate(1110.4 225.7)" d="M10.9 0L10.9 23L5.7 23L5.7 7C4.2 8.5 2.3 9.800 0 10.600L0 6.600C3.200 5.400 6 3 7.200 0Z" fill="#000"/>
<path transform="translate(1128.4 225.7)" d="M10.9 0L10.9 23L5.7 23L5.7 7C4.2 8.5 2.3 9.800 0 10.600L0 6.600C3.200 5.400 6 3 7.200 0Z" fill="#000"/>
<path transform="translate(1156.7 467)" d="M10.9 0L10.9 23L5.7 23L5.7 7C4.2 8.5 2.3 9.800 0 10.600L0 6.600C3.200 5.400 6 3 7.200 0Z" fill="#000"/>
</g>
</svg>
</body></html>
